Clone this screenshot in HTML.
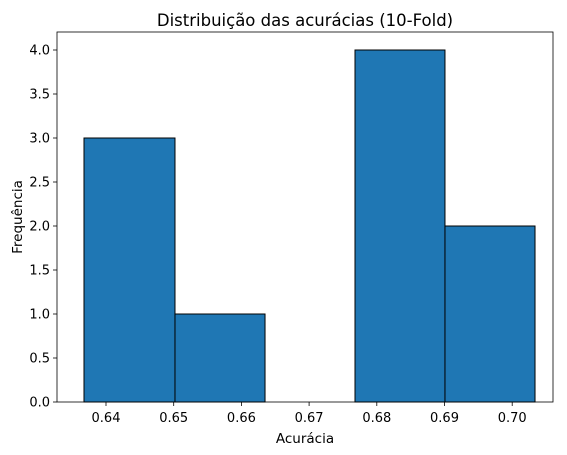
<!DOCTYPE html>
<html><head><meta charset="utf-8"><style>
body{margin:0;background:#fff}
svg{display:block;font-family:"DejaVu Sans","Liberation Sans",sans-serif}
</style></head><body>
<svg id="chart" width="567" height="455" viewBox="0 0 567 455">
<rect x="0" y="0" width="567" height="455" fill="#fff"/>
<g id="plot"></g>
</svg>
<script>
const binEdges=[0.63675,0.65019,0.66349,0.67678,0.69007,0.70337];
const counts=[3,1,0,4,2];
const xTicks=[0.64,0.65,0.66,0.67,0.68,0.69,0.70];
const xTickLabels=["0.64","0.65","0.66","0.67","0.68","0.69","0.70"];
const yTicks=[0,0.5,1,1.5,2,2.5,3,3.5,4];
const yTickLabels=["0.0","0.5","1.0","1.5","2.0","2.5","3.0","3.5","4.0"];

const L=57,R=553,T=32,B=402;
function x(v){return 106+(v-0.64)*6770;}
function y(v){return 402-v*88;}
const NS="http://www.w3.org/2000/svg";
const g=document.getElementById('plot');
function mk(tag,attrs,parent){const e=document.createElementNS(NS,tag);for(const k in attrs)e.setAttribute(k,attrs[k]);(parent||g).appendChild(e);return e;}

for(let i=0;i<counts.length;i++){
  const x0=x(binEdges[i]),x1=x(binEdges[i+1]);
  const r=mk('rect',{x:x0,y:y(counts[i]),width:x1-x0,height:y(0)-y(counts[i]),fill:'#1f77b4',stroke:'#000','stroke-width':1});
  
  
}
const frame=mk('rect',{x:L,y:T,width:R-L,height:B-T,fill:'none',stroke:'#000','stroke-width':0.8});



xTicks.forEach((v,i)=>{
  const px=x(v);
  const tk=mk('line',{x1:px,x2:px,y1:B,y2:B+4,stroke:'#000','stroke-width':0.8});
  
  
  const t=mk('text',{x:px,y:B+20,'text-anchor':'middle','font-size':13,fill:'#000'});
  t.textContent=xTickLabels[i];
  
  
});
yTicks.forEach((v,i)=>{
  const py=y(v);
  const tk=mk('line',{x1:L-4,x2:L,y1:py,y2:py,stroke:'#000','stroke-width':0.8});
  
  
  const t=mk('text',{x:L-7,y:py+4.5,'text-anchor':'end','font-size':13,fill:'#000'});
  t.textContent=yTickLabels[i];
  
  
});
const title=mk('text',{x:(L+R)/2,y:26,'text-anchor':'middle','font-size':16.5,fill:'#000'});
title.textContent='Distribuição das acurácias (10-Fold)';


const xl=mk('text',{x:(L+R)/2,y:443,'text-anchor':'middle','font-size':13.5,fill:'#000'});
xl.textContent='Acurácia';


const yl=mk('text',{x:0,y:0,'text-anchor':'middle','font-size':13.5,fill:'#000',transform:'translate(22,'+((T+B)/2)+') rotate(-90)'});
yl.textContent='Frequência';


</script>
</body></html>
